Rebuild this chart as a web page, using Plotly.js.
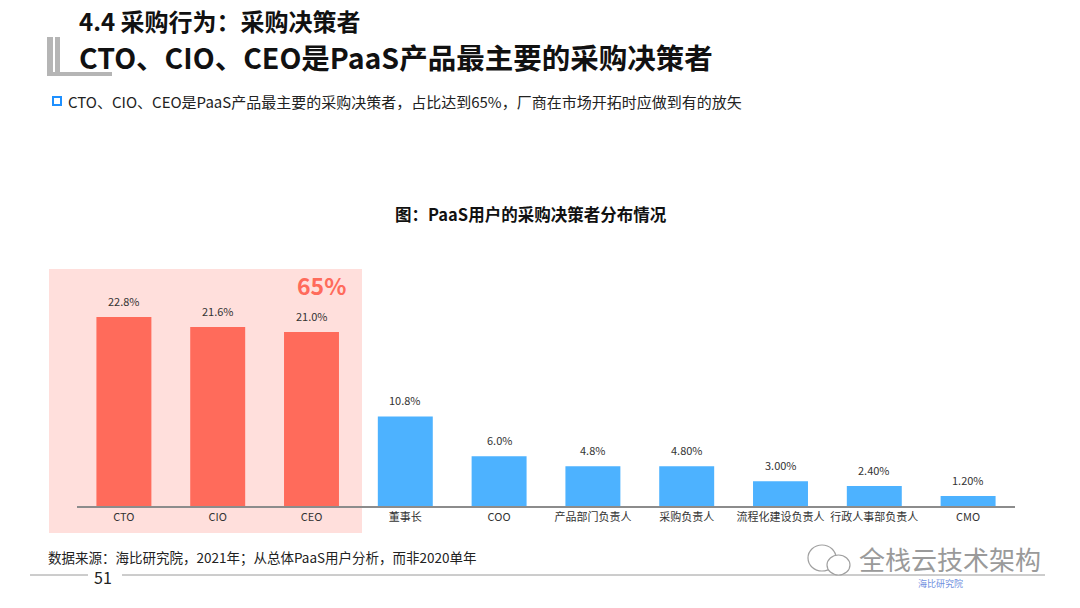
<!DOCTYPE html>
<html>
<head>
<meta charset="utf-8">
<script src="https://cdn.plot.ly/plotly-3.0.1.min.js"></script>
<style>
  html, body { margin: 0; padding: 0; background: #ffffff; }
  #chart { width: 1080px; height: 608px; }
</style>
</head>
<body>
<div id="chart"></div>
<script>
// ---- data ----
const categories = ["CTO", "CIO", "CEO", "董事长", "COO", "产品部门负责人", "采购负责人", "流程化建设负责人", "行政人事部负责人", "CMO"];
const shares = [22.8, 21.6, 21.0, 10.8, 6.0, 4.8, 4.8, 3.0, 2.4, 1.2];
const shareLabels = ["22.8%", "21.6%", "21.0%", "10.8%", "6.0%", "4.8%", "4.80%", "3.00%", "2.40%", "1.20%"];
const topGroup = ["CTO", "CIO", "CEO"];
const topGroupLabel = "65%";

const titleLine1 = "4.4 采购行为：采购决策者";
const titleLine2 = "CTO、CIO、CEO是PaaS产品最主要的采购决策者";
const subtitle = "CTO、CIO、CEO是PaaS产品最主要的采购决策者，占比达到65%，厂商在市场开拓时应做到有的放矢";
const chartTitle = "图：PaaS用户的采购决策者分布情况";
const sourceNote = "数据来源：海比研究院，2021年；从总体PaaS用户分析，而非2020单年";
const pageNo = "51";
const brand = "全栈云技术架构";
const brandLogo = "海比研究院";

// ---- layout helpers (pixel -> paper) ----
const W = 1080, H = 608;
const L = 77, R = 1015, T = 299, B = 506;
const px = x => (x - L) / (R - L);
const py = y => (B - y) / (B - T);

const RED = "#FF6B5B", BLUE = "#4DB2FF", PINK = "#FFDFDC";
const FONT = "'Noto Sans CJK SC', 'Noto Sans', sans-serif";

const colors = categories.map(c => topGroup.includes(c) ? RED : BLUE);

const trace = {
  type: "bar",
  x: categories,
  y: shares,
  marker: { color: colors, line: { width: 0 } },
  hoverinfo: "x+y",
  cliponaxis: false
};

const annotations = [];
// value labels
categories.forEach((c, i) => {
  annotations.push({
    x: c, y: shares[i], xref: "x", yref: "y",
    text: shareLabels[i], showarrow: false,
    yanchor: "bottom", yshift: 6,
    font: { family: FONT, size: 11, color: "#333333" }
  });
});
// 65% highlight
annotations.push({
  x: "CEO", y: shares[2], xref: "x", yref: "y", xshift: 10, yshift: 28,
  text: "<b>" + topGroupLabel + "</b>", showarrow: false, yanchor: "bottom",
  font: { family: FONT, size: 23, color: RED }
});
function txt(text, x, y, size, color, opts) {
  annotations.push(Object.assign({
    text: text, x: px(x), y: py(y), xref: "paper", yref: "paper",
    showarrow: false, xanchor: "left", yanchor: "middle",
    font: { family: FONT, size: size, color: color }
  }, opts || {}));
}
txt("<b>" + titleLine1 + "</b>", 77, 21, 24, "#111111");
txt("<b>" + titleLine2 + "</b>", 77, 56, 28.5, "#111111");
txt(subtitle, 66, 101, 15, "#222222");
txt("<b>" + chartTitle + "</b>", 531, 214, 16.5, "#111111", { xanchor: "center" });
txt(sourceNote, 46, 557, 13.5, "#222222");
txt(pageNo, 103, 577, 16, "#222222", { xanchor: "center" });
txt(brand, 950, 558, 26, "#9a9a9a", { xanchor: "center" });
txt(brandLogo, 940, 583, 9, "#6f8fe0", { xanchor: "center" });

const shapes = [
  // pink highlight box
  { type: "rect", xref: "paper", yref: "paper", x0: px(49), x1: px(362), y0: py(533), y1: py(269),
    fillcolor: PINK, line: { width: 0 }, layer: "below" },
  // title bracket
  { type: "rect", xref: "paper", yref: "paper", x0: px(47), x1: px(53), y0: py(76), y1: py(37),
    fillcolor: "#b5b5b5", line: { width: 0 } },
  { type: "rect", xref: "paper", yref: "paper", x0: px(55), x1: px(60), y0: py(76), y1: py(37),
    fillcolor: "#b5b5b5", line: { width: 0 } },
  { type: "rect", xref: "paper", yref: "paper", x0: px(47), x1: px(112), y0: py(76), y1: py(72),
    fillcolor: "#b5b5b5", line: { width: 0 } },
  // subtitle bullet
  { type: "rect", xref: "paper", yref: "paper", x0: px(53), x1: px(61), y0: py(105), y1: py(97),
    fillcolor: "rgba(0,0,0,0)", line: { color: "#1E90FF", width: 2 } },
  // footer lines
  { type: "line", xref: "paper", yref: "paper", x0: px(30), x1: px(88), y0: py(575), y1: py(575),
    line: { color: "#9a9a9a", width: 1 } },
  { type: "line", xref: "paper", yref: "paper", x0: px(122), x1: px(1045), y0: py(575), y1: py(575),
    line: { color: "#9a9a9a", width: 1 } },
  // wechat-like bubbles
  { type: "circle", xref: "paper", yref: "paper", x0: px(808), x1: px(836), y0: py(571), y1: py(545),
    fillcolor: "#ffffff", line: { color: "#a0a0a0", width: 1.2 } },
  { type: "circle", xref: "paper", yref: "paper", x0: px(827), x1: px(850), y0: py(575), y1: py(555),
    fillcolor: "#ffffff", line: { color: "#a0a0a0", width: 1.2 } }
];

const layout = {
  width: W, height: H,
  margin: { l: L, r: W - R, t: T, b: H - B, pad: 0 },
  paper_bgcolor: "#ffffff", plot_bgcolor: "rgba(0,0,0,0)",
  showlegend: false,
  bargap: 0.414,
  font: { family: FONT },
  xaxis: {
    type: "category",
    showline: true, linecolor: "#8c8c8c", linewidth: 1.5,
    ticks: "", showgrid: false, zeroline: false,
    tickfont: { family: FONT, size: 11, color: "#333333" },
    fixedrange: true
  },
  yaxis: {
    range: [0, (B - T) / 8.29],
    visible: false, showgrid: false, zeroline: false, fixedrange: true
  },
  annotations: annotations,
  shapes: shapes
};

Plotly.newPlot("chart", [trace], layout, { displayModeBar: false, staticPlot: true });
</script>
</body>
</html>
